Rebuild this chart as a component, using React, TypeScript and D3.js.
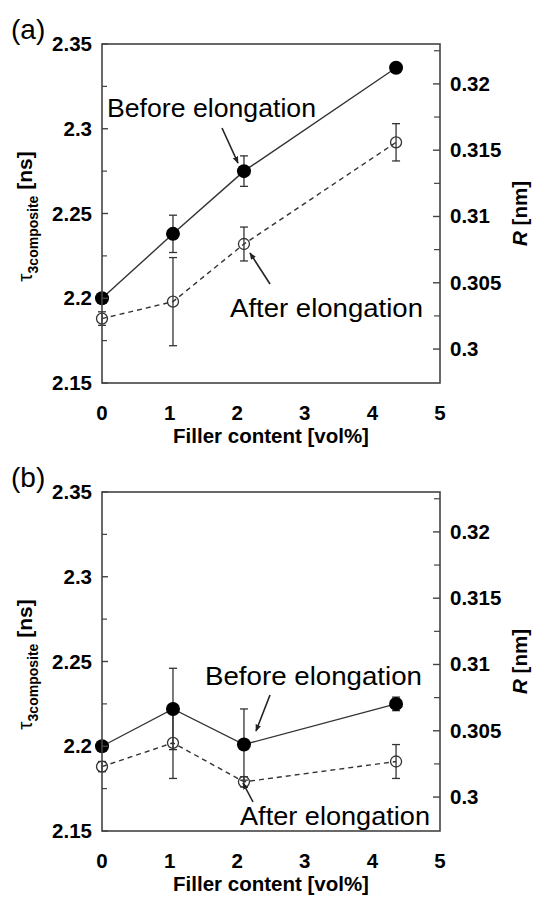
import React from "react";
import * as d3 from "d3";

// ---- data ----
const FILLER = [0, 1.05, 2.1, 4.35];
const A_BEFORE = [2.2, 2.238, 2.275, 2.336];
const A_BEFORE_ERR = [0, 0.011, 0.009, 0];
const A_AFTER = [2.188, 2.198, 2.232, 2.292];
const A_AFTER_ERR = [0.004, 0.026, 0.010, 0.011];
const B_BEFORE = [2.2, 2.222, 2.201, 2.225];
const B_BEFORE_ERR = [0, 0.024, 0.021, 0.004];
const B_AFTER = [2.188, 2.202, 2.179, 2.191];
const B_AFTER_ERR = [0.003, 0.021, 0.003, 0.010];
const X_TICKS = [0, 1, 2, 3, 4, 5];
const TAU_TICKS = [2.15, 2.2, 2.25, 2.3, 2.35];
const TAU_TICK_LABELS = ["2.15", "2.2", "2.25", "2.3", "2.35"];
const TAU_MINOR = [2.175, 2.225, 2.275, 2.325];
const R_TICKS = [0.3, 0.305, 0.31, 0.315, 0.32];
const R_TICK_LABELS = ["0.3", "0.305", "0.31", "0.315", "0.32"];
const R_MINOR = [0.3025, 0.3075, 0.3125, 0.3175, 0.3225];
const LABEL_BEFORE = "Before elongation";
const LABEL_AFTER = "After elongation";
const X_TITLE = "Filler content [vol%]";

const FONT = "'Liberation Sans', Arial, sans-serif";
const AX = "#444";
const LINE = "#333";

type PanelProps = {
  top: number;
  tag: string;
  before: number[];
  beforeErr: number[];
  after: number[];
  afterErr: number[];
  beforeText: { x: number; y: number; w: number };
  afterText: { x: number; y: number; w: number };
  beforeArrow: [number, number, number, number];
  afterArrow: [number, number, number, number];
};

function Panel(p: PanelProps) {
  const left = 102, right = 440;
  const top = p.top, bottom = p.top + 339;
  const x = d3.scaleLinear().domain([0, 5]).range([left, right]);
  const y = d3.scaleLinear().domain([2.15, 2.35]).range([bottom, top]);
  const yr = d3.scaleLinear().domain([0.29744, 0.32301]).range([bottom, top]);
  const line = d3
    .line<number>()
    .x((_, i) => x(FILLER[i]))
    .y((d) => y(d));

  const errBars = (vals: number[], errs: number[], key: string) =>
    vals.map((v, i) =>
      errs[i] > 0 ? (
        <g key={key + i} stroke={LINE} strokeWidth={1.3}>
          <line x1={x(FILLER[i])} x2={x(FILLER[i])} y1={y(v - errs[i])} y2={y(v + errs[i])} />
          <line x1={x(FILLER[i]) - 4} x2={x(FILLER[i]) + 4} y1={y(v - errs[i])} y2={y(v - errs[i])} />
          <line x1={x(FILLER[i]) - 4} x2={x(FILLER[i]) + 4} y1={y(v + errs[i])} y2={y(v + errs[i])} />
        </g>
      ) : null
    );

  const midY = (top + bottom) / 2;

  return (
    <g>
      <text x={11} y={top - 5} fontFamily={FONT} fontSize={28}>{p.tag}</text>
      {/* data lines */}
      <path d={line(p.after) || ""} fill="none" stroke={LINE} strokeWidth={1.4} strokeDasharray="5,4" />
      <path d={line(p.before) || ""} fill="none" stroke={LINE} strokeWidth={1.4} />
      {errBars(p.after, p.afterErr, "a")}
      {errBars(p.before, p.beforeErr, "b")}
      {p.after.map((v, i) => (
        <circle key={"ac" + i} cx={x(FILLER[i])} cy={y(v)} r={5.5} fill="white" fillOpacity={0} stroke={LINE} strokeWidth={1.3} />
      ))}
      {p.before.map((v, i) => (
        <circle key={"bc" + i} cx={x(FILLER[i])} cy={y(v)} r={7} fill="#000" />
      ))}
      {/* frame */}
      <rect x={left} y={top} width={right - left} height={bottom - top} fill="none" stroke={AX} strokeWidth={1.6} />
      {/* left ticks */}
      {TAU_TICKS.map((t, i) => (
        <g key={"lt" + i}>
          <line x1={left} x2={left + 6} y1={y(t)} y2={y(t)} stroke={AX} strokeWidth={1.4} />
          <text x={92} y={y(t) + 7} textAnchor="end" fontFamily={FONT} fontWeight="bold" fontSize={20.5}>{TAU_TICK_LABELS[i]}</text>
        </g>
      ))}
      {TAU_MINOR.map((t, i) => (
        <line key={"lm" + i} x1={left} x2={left + 5} y1={y(t)} y2={y(t)} stroke={AX} strokeWidth={1.2} />
      ))}
      {/* right ticks */}
      {R_TICKS.map((t, i) => (
        <g key={"rt" + i}>
          <line x1={right - 7} x2={right} y1={yr(t)} y2={yr(t)} stroke={AX} strokeWidth={1.4} />
          <text x={450} y={yr(t) + 7} textAnchor="start" fontFamily={FONT} fontWeight="bold" fontSize={20.5}>{R_TICK_LABELS[i]}</text>
        </g>
      ))}
      {R_MINOR.map((t, i) => (
        <line key={"rm" + i} x1={right - 6} x2={right} y1={yr(t)} y2={yr(t)} stroke={AX} strokeWidth={1.2} />
      ))}
      {/* x tick labels */}
      {X_TICKS.map((t) => (
        <text key={"xt" + t} x={x(t)} y={bottom + 37} textAnchor="middle" fontFamily={FONT} fontWeight="bold" fontSize={20.5}>{t}</text>
      ))}
      <text x={271} y={bottom + 60} textAnchor="middle" fontFamily={FONT} fontWeight="bold" fontSize={20.5}>{X_TITLE}</text>
      {/* left title */}
      <text transform={`translate(32,${midY + 3}) rotate(-90)`} textAnchor="middle" fontFamily={FONT} fontSize={21}>
        <tspan>τ</tspan>
        <tspan fontSize={14} fontWeight="bold" dy={6}>3composite</tspan>
        <tspan fontWeight="bold" dy={-6}> [ns]</tspan>
      </text>
      {/* right title */}
      <text transform={`translate(527,${midY}) rotate(-90)`} textAnchor="middle" fontFamily={FONT} fontSize={20.5} fontWeight="bold">
        <tspan fontStyle="italic">R</tspan>
        <tspan> [nm]</tspan>
      </text>
      {/* annotations */}
      <text x={p.beforeText.x} y={p.beforeText.y} fontFamily={FONT} fontSize={26} textLength={p.beforeText.w} lengthAdjust="spacingAndGlyphs">{LABEL_BEFORE}</text>
      <text x={p.afterText.x} y={p.afterText.y} fontFamily={FONT} fontSize={26} textLength={p.afterText.w} lengthAdjust="spacingAndGlyphs">{LABEL_AFTER}</text>
      <line x1={p.beforeArrow[0]} y1={p.beforeArrow[1]} x2={p.beforeArrow[2]} y2={p.beforeArrow[3]} stroke="#222" strokeWidth={1.6} markerEnd="url(#arrowhead)" />
      <line x1={p.afterArrow[0]} y1={p.afterArrow[1]} x2={p.afterArrow[2]} y2={p.afterArrow[3]} stroke="#222" strokeWidth={1.6} markerEnd="url(#arrowhead)" />
    </g>
  );
}

export default function App() {
  return (
    <svg width={533} height={898} style={{ position: "absolute", left: 0, top: 0, background: "white" }}>
      <defs>
        <marker id="arrowhead" viewBox="0 0 10 10" refX={9} refY={5} markerWidth={7} markerHeight={7} orient="auto" markerUnits="userSpaceOnUse">
          <path d="M0,1 L10,5 L0,9 z" fill="#222" />
        </marker>
      </defs>
      <rect width={533} height={898} fill="white" />
      <Panel
        top={44}
        tag="(a)"
        before={A_BEFORE}
        beforeErr={A_BEFORE_ERR}
        after={A_AFTER}
        afterErr={A_AFTER_ERR}
        beforeText={{ x: 107, y: 117, w: 209 }}
        afterText={{ x: 230, y: 317, w: 193 }}
        beforeArrow={[222, 128, 238, 163]}
        afterArrow={[270, 284, 250, 253]}
      />
      <Panel
        top={492}
        tag="(b)"
        before={B_BEFORE}
        beforeErr={B_BEFORE_ERR}
        after={B_AFTER}
        afterErr={B_AFTER_ERR}
        beforeText={{ x: 205, y: 685, w: 217 }}
        afterText={{ x: 240, y: 825, w: 190 }}
        beforeArrow={[270, 695, 256, 731]}
        afterArrow={[253, 802, 243, 783]}
      />
    </svg>
  );
}
